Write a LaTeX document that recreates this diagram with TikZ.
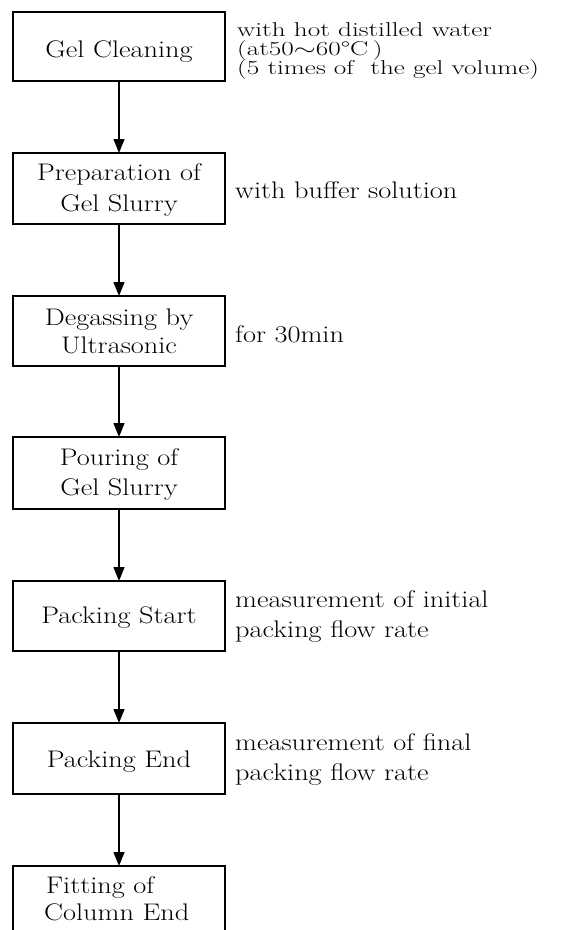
\documentclass[tikz,border=0pt]{standalone}
\usepackage{fontspec}
\usetikzlibrary{arrows.meta}
\newcommand\bxfont{\fontsize{24}{30}\selectfont}
\newcommand\smfont{\fontsize{20}{18}\selectfont}
\newcommand\stretchbig[1]{\scalebox{1.18}[1]{#1}}
\newcommand\stretchsmall[1]{\scalebox{1.36}[1]{#1}}
\begin{document}
\begin{tikzpicture}[x=1pt,y=-1pt,
  stepbox/.style={draw,line width=1.5pt,rectangle,minimum width=212pt,inner sep=0pt,outer sep=0pt},
  boxtext/.style={anchor=base,inner sep=0pt,font=\bxfont},
  sidetext/.style={anchor=base west,inner sep=0pt,font=\bxfont},
  smalltext/.style={anchor=base west,inner sep=0pt,font=\smfont,text height=12pt,text depth=2pt},
  flow/.style={line width=1.3pt,-{Triangle[length=14pt,width=11pt]}}]
\useasboundingbox (0,0) rectangle (576,930);
\clip (0,0) rectangle (576,930);
% boxes
\node[stepbox,minimum height=69pt] (b1) at (119,46.5) {};
\node[stepbox,minimum height=71pt] (b2) at (119,188.5) {};
\node[stepbox,minimum height=70pt] (b3) at (119,331) {};
\node[stepbox,minimum height=72pt] (b4) at (119,473) {};
\node[stepbox,minimum height=70pt] (b5) at (119,616) {};
\node[stepbox,minimum height=71pt] (b6) at (119,758.5) {};
\node[stepbox,minimum height=80pt] (b7) at (119,906) {};
% box texts
\node[boxtext] (t1) at (119,57) {\stretchbig{Gel Cleaning}};
\node[boxtext] (t2a) at (119,180) {\stretchbig{Preparation of}};
\node[boxtext] (t2b) at (119,211) {\stretchbig{Gel Slurry}};
\node[boxtext] (t3a) at (119,325) {\stretchbig{Degassing by}};
\node[boxtext] (t3b) at (119,353) {\stretchbig{Ultrasonic}};
\node[boxtext] (t4a) at (119,465) {\stretchbig{Pouring of}};
\node[boxtext] (t4b) at (119,495) {\stretchbig{Gel Slurry}};
\node[boxtext] (t5) at (119,623) {\stretchbig{Packing Start}};
\node[boxtext] (t6) at (119,767) {\stretchbig{Packing End}};
\node[boxtext,anchor=base west] (t7a) at (46,893) {\stretchbig{Fitting of}};
\node[boxtext,anchor=base west] (t7b) at (44,920) {\stretchbig{Column End}};
% side texts
\node[smalltext] (s1a) at (237,36) {\stretchsmall{with hot distilled water}};
\node[smalltext] (s1b) at (237,55) {\stretchsmall{(at50$\sim$60°C\,)}};
\node[smalltext] (s1c) at (237,74) {\stretchsmall{(5 times of\ \ the gel volume)}};
\node[sidetext] (s2) at (235,198) {\stretchbig{with buffer solution}};
\node[sidetext] (s3) at (235,342) {\stretchbig{for 30min}};
\node[sidetext] (s5a) at (235,607) {\stretchbig{measurement of initial}};
\node[sidetext] (s5b) at (235,637) {\stretchbig{packing flow rate}};
\node[sidetext] (s6a) at (235,750) {\stretchbig{measurement of final}};
\node[sidetext] (s6b) at (235,780) {\stretchbig{packing flow rate}};
% connectors
\draw[flow] (b1) -- (b2);
\draw[flow] (b2) -- (b3);
\draw[flow] (b3) -- (b4);
\draw[flow] (b4) -- (b5);
\draw[flow] (b5) -- (b6);
\draw[flow] (b6) -- (b7);
\end{tikzpicture}
\end{document}
